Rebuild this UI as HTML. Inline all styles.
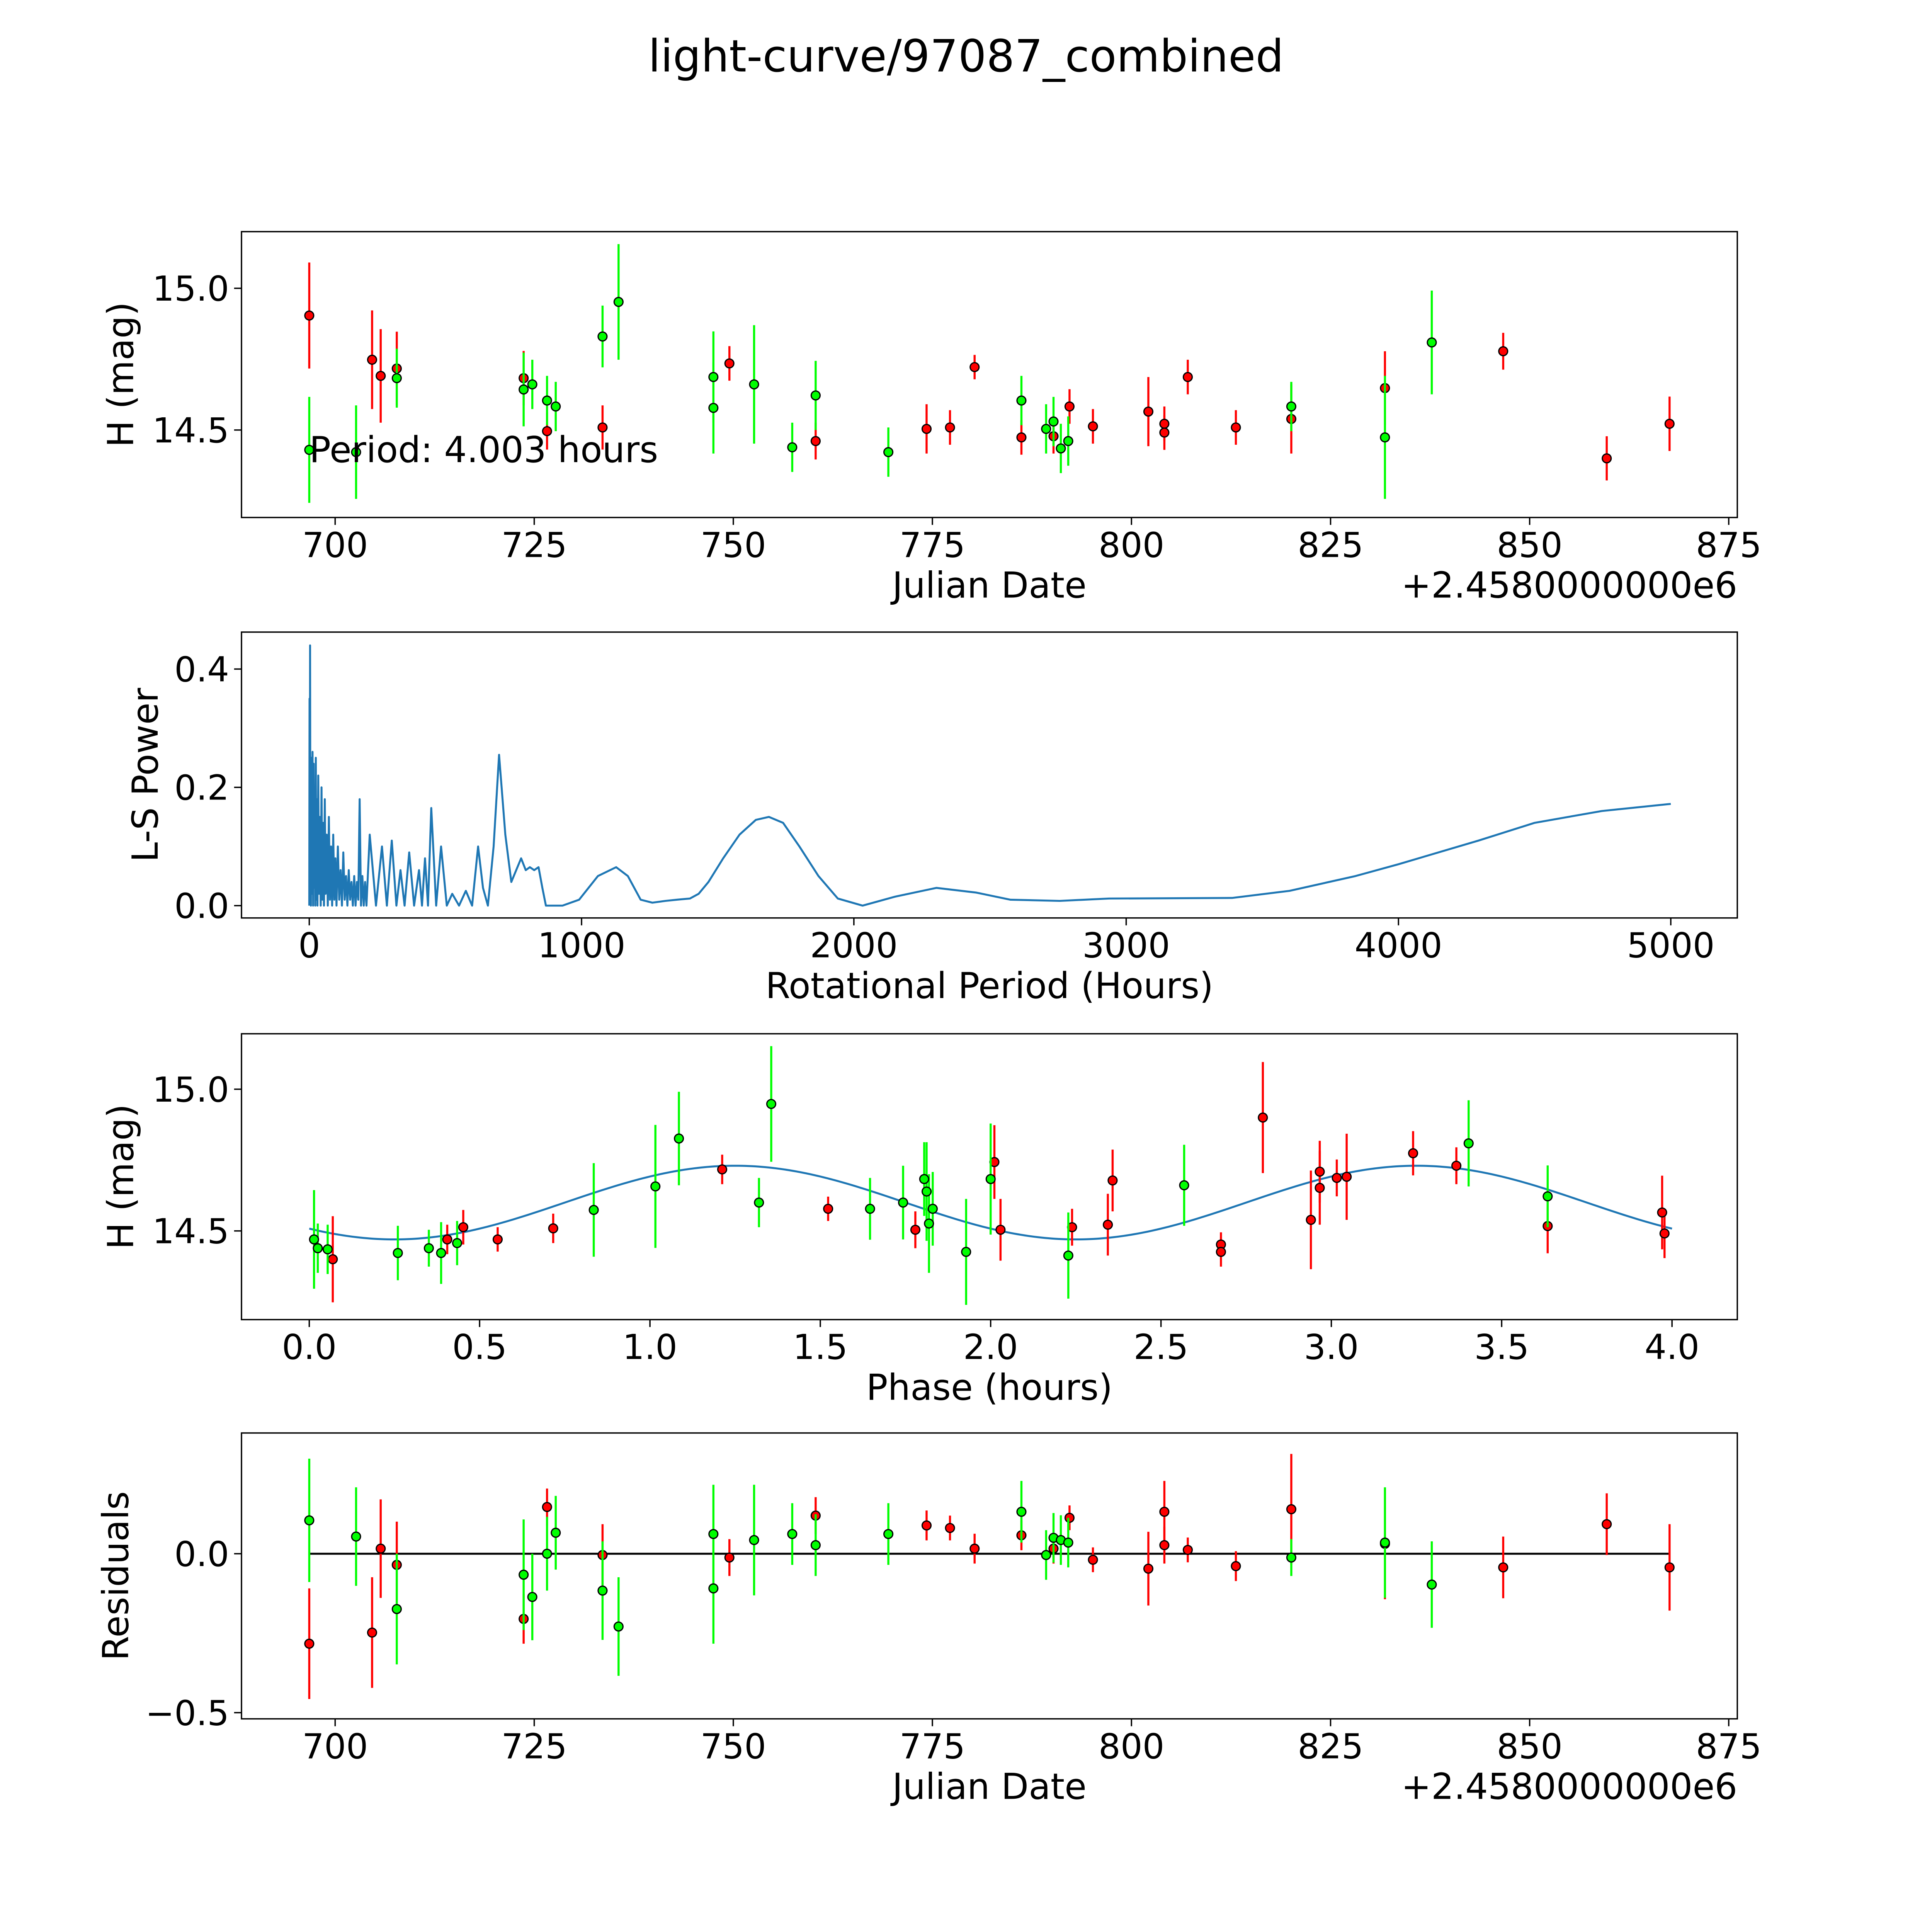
<!DOCTYPE html>
<html><head><meta charset="utf-8"><style>
html,body{margin:0;padding:0;background:#fff;overflow:hidden}
svg{display:block;width:100vw;height:100vh}
text{font-family:"DejaVu Sans","Liberation Sans",sans-serif;fill:#000}
</style></head><body>
<svg id="fig" viewBox="0 0 1568 1568" preserveAspectRatio="none" xmlns="http://www.w3.org/2000/svg">
<rect width="1568" height="1568" fill="#fff"/>
<text x="784" y="58" font-size="36" text-anchor="middle">light-curve/97087_combined</text>
<g id="layer"></g>
</svg>
<script>
// ---- data ----
const redJD=[696.75,704.64,705.72,707.74,723.67,726.61,733.58,749.51,760.34,774.27,777.21,780.30,786.18,790.21,792.22,795.16,802.12,804.13,804.13,807.07,813.11,820.07,831.83,846.68,859.68,867.57];
const redMag=[14.904,14.748,14.691,14.717,14.683,14.496,14.509,14.735,14.461,14.504,14.509,14.722,14.474,14.478,14.583,14.513,14.565,14.522,14.491,14.687,14.509,14.539,14.648,14.778,14.400,14.522];
const redErr=[0.187,0.174,0.165,0.13,0.096,0.065,0.078,0.061,0.065,0.087,0.061,0.043,0.061,0.061,0.061,0.061,0.122,0.061,0.061,0.061,0.061,0.122,0.13,0.065,0.078,0.096];
const greenJD=[696.75,702.63,707.74,723.67,724.76,726.61,727.70,733.58,735.59,747.50,747.50,752.61,757.40,760.34,769.47,786.18,789.28,790.21,791.13,792.06,820.07,831.83,837.71];
const greenMag=[14.43,14.422,14.683,14.643,14.661,14.604,14.583,14.83,14.952,14.687,14.578,14.661,14.439,14.622,14.422,14.604,14.504,14.53,14.435,14.461,14.583,14.474,14.809];
const greenErr=[0.187,0.165,0.104,0.13,0.087,0.087,0.087,0.109,0.204,0.161,0.161,0.209,0.087,0.122,0.087,0.087,0.087,0.087,0.087,0.087,0.087,0.217,0.183];
const redResid=[-0.283,-0.248,0.016,-0.035,-0.205,0.147,-0.004,-0.012,0.12,0.089,0.081,0.016,0.058,0.016,0.113,-0.019,-0.047,0.132,0.027,0.012,-0.039,0.14,0.031,-0.043,0.093,-0.043];
const redResidErr=[0.174,0.174,0.155,0.136,0.078,0.058,0.097,0.058,0.058,0.047,0.039,0.047,0.047,0.047,0.039,0.039,0.116,0.097,0.058,0.039,0.047,0.174,0.174,0.097,0.097,0.136];
const greenResid=[0.105,0.054,-0.174,-0.066,-0.136,0,0.066,-0.116,-0.229,0.062,-0.109,0.043,0.062,0.027,0.062,0.132,-0.004,0.05,0.043,0.035,-0.012,0.035,-0.097];
const greenResidErr=[0.194,0.155,0.174,0.174,0.136,0.116,0.116,0.155,0.155,0.155,0.174,0.174,0.097,0.097,0.097,0.097,0.078,0.078,0.078,0.078,0.058,0.174,0.136];
const greenPhase=[0.014,0.025,0.054,0.26,0.351,0.387,0.434,0.835,1.016,1.085,1.32,1.356,1.646,1.743,1.805,1.812,1.819,1.83,1.928,2.0,2.228,2.568,3.403,3.635];
const greenPhaseMag=[14.47,14.439,14.435,14.422,14.439,14.422,14.457,14.574,14.657,14.826,14.6,14.948,14.578,14.6,14.683,14.639,14.526,14.578,14.426,14.683,14.413,14.661,14.809,14.622];
const greenPhaseErr=[0.174,0.087,0.087,0.096,0.065,0.109,0.078,0.165,0.217,0.165,0.087,0.204,0.109,0.13,0.13,0.174,0.174,0.13,0.187,0.196,0.152,0.143,0.152,0.109];
const redPhase=[0.069,0.405,0.452,0.553,0.716,1.212,1.523,1.779,2.011,2.029,2.239,2.344,2.358,2.676,2.676,2.799,2.94,2.966,2.966,3.016,3.045,3.24,3.367,3.635,3.971,3.978];
const redPhaseMag=[14.4,14.47,14.513,14.47,14.509,14.717,14.578,14.504,14.743,14.504,14.513,14.522,14.678,14.452,14.426,14.9,14.539,14.709,14.652,14.687,14.691,14.774,14.73,14.517,14.565,14.491];
const redPhaseErr=[0.152,0.052,0.061,0.043,0.052,0.052,0.043,0.065,0.13,0.109,0.065,0.109,0.109,0.043,0.052,0.196,0.174,0.109,0.13,0.065,0.152,0.078,0.065,0.096,0.13,0.087];
const fitMean=14.60, fitAmp=0.13, fitPeriod=2.0, fitPeak=1.25, foldPeriod=4.003;
const lsPeriods=[0,1,2,3,4,6,8,10,12,14,16,18,20,22,24,26,28,30,33,36,39,42,45,48,51,54,57,60,64,68,72,76,80,84,88,92,96,100,105,110,115,120,125,130,135,140,145,150,155,160,165,170,175,180,185,190,195,200,205,210,222,245,267,285,303,320,335,350,367,385,403,414,425,436,448,466,484,505,525,550,575,598,620,638,656,677,697,720,742,760,778,795,810,826,842,856,869,930,991,1060,1127,1170,1217,1260,1308,1350,1398,1430,1466,1520,1580,1640,1688,1740,1800,1870,1941,2032,2150,2303,2450,2575,2756,2937,3389,3600,3842,4000,4294,4500,4747,5000];
const lsPower=[0,0.35,0.03,0.44,0.1,0,0.25,0.02,0.26,0,0.24,0.03,0.2,0,0.25,0.01,0.18,0,0.22,0.02,0.15,0,0.2,0.01,0.14,0,0.18,0.02,0.12,0,0.15,0.01,0.1,0,0.12,0.01,0.08,0,0.1,0.01,0.06,0,0.09,0.01,0.05,0,0.06,0.01,0.04,0,0.05,0,0.04,0.01,0.18,0,0.05,0,0.04,0,0.12,0,0.1,0,0.11,0,0.06,0,0.09,0,0.06,0,0.08,0,0.165,0,0.1,0,0.02,0,0.025,0,0.1,0.03,0,0.1,0.255,0.12,0.04,0.06,0.08,0.06,0.065,0.06,0.065,0.03,0,0,0.01,0.05,0.065,0.05,0.01,0.005,0.008,0.01,0.012,0.02,0.04,0.08,0.12,0.145,0.15,0.14,0.1,0.05,0.012,0,0.015,0.03,0.022,0.01,0.008,0.012,0.013,0.025,0.05,0.07,0.11,0.14,0.16,0.172];
const jdTicks=[700,725,750,775,800,825,850,875];
const magTicks=[14.5,15.0];
const lsXTicks=[0,1000,2000,3000,4000,5000];
const lsYTicks=[0.0,0.2,0.4];
const phaseTicks=[0,0.5,1,1.5,2,2.5,3,3.5,4];
const residTicks=[-0.5,0.0];

// ---- scales ----
const sxJD=v=>272+(v-700)*6.463;
const sy1=v=>349-(v-14.5)*230;
const sx2=v=>251+v*0.221;
const sy2=v=>735-v*480;
const sx3=v=>251+v*276.5;
const sy3=v=>999-(v-14.5)*230;
const sy4=v=>1261-v*258;

const NS='http://www.w3.org/2000/svg';
const layer=document.getElementById('layer');
function mk(tag,attrs,parent){const e=document.createElementNS(NS,tag);for(const k in attrs)e.setAttribute(k,attrs[k]);(parent||layer).appendChild(e);return e;}

function axes(name,x0,y0,x1,y1,xt,sx,xfmt,yt,sy,yfmt,xlabel,ylabel,ylx){
  const g=mk('g',{});
  
  
  const fr=mk('rect',{x:x0,y:y0,width:x1-x0,height:y1-y0,fill:'none',stroke:'#000','stroke-width':1.1},g);
  
  
  xt.forEach(v=>{const x=sx(v);
    mk('line',{x1:x,y1:y1,x2:x,y2:y1+6,stroke:'#000','stroke-width':1.1},g);
    const t=mk('text',{x:x,y:y1+32,'font-size':28,'text-anchor':'middle'},g);t.textContent=xfmt(v);
    
    });
  yt.forEach(v=>{const y=sy(v);
    mk('line',{x1:x0-6,y1:y,x2:x0,y2:y,stroke:'#000','stroke-width':1.1},g);
    const t=mk('text',{x:x0-10,y:y+10,'font-size':28,'text-anchor':'end'},g);t.textContent=yfmt(v);
    
    });
  const xl=mk('text',{x:(x0+x1)/2,y:y1+65,'font-size':29,'text-anchor':'middle'},g);xl.textContent=xlabel;
  
  
  const yc=(y0+y1)/2;
  const yl=mk('text',{x:ylx,y:yc,'font-size':29,'text-anchor':'middle',transform:'rotate(-90 '+ylx+' '+yc+')'},g);yl.textContent=ylabel;
  
  
  return g;
}
function pts(name,xs,ys,es,sx,sy,col){
  const g=mk('g',{});
  
  
  xs.forEach((x,i)=>{const X=sx(x);
    const l=mk('line',{x1:X,y1:sy(ys[i]-es[i]),x2:X,y2:sy(ys[i]+es[i]),stroke:col,'stroke-width':1.7},g);
    
    });
  xs.forEach((x,i)=>{
    const c=mk('circle',{cx:sx(x),cy:sy(ys[i]),r:3.6,fill:col,stroke:'#000','stroke-width':1},g);
    
    });
}
const RED='#ff0000',GREEN='#00ff00',f1=v=>v.toFixed(1);
const offText='+2.4580000000e6';

// Panel 1
axes('lightcurve',196,188,1410,420,jdTicks,sxJD,v=>String(v),magTicks,sy1,f1,'Julian Date','H (mag)',108);
pts('lightcurve-red',redJD,redMag,redErr,sxJD,sy1,RED);
pts('lightcurve-green',greenJD,greenMag,greenErr,sxJD,sy1,GREEN);
let t=mk('text',{x:251,y:375,'font-size':29});t.textContent='Period: '+foldPeriod.toFixed(3)+' hours';


t=mk('text',{x:1410,y:485,'font-size':29,'text-anchor':'end'});t.textContent=offText;



// Panel 2
axes('periodogram',196,513,1410,745,lsXTicks,sx2,v=>String(v),lsYTicks,sy2,f1,'Rotational Period (Hours)','L-S Power',128);
let p=mk('polyline',{points:lsPeriods.map((v,i)=>sx2(v)+','+sy2(lsPower[i])).join(' '),fill:'none',stroke:'#1f77b4','stroke-width':1.6,'stroke-linejoin':'round'});



// Panel 3
axes('phase',196,839,1410,1071,phaseTicks,sx3,f1,magTicks,sy3,f1,'Phase (hours)','H (mag)',108);
const fitX=[];for(let i=0;i<=400;i++)fitX.push(i*0.01);
p=mk('polyline',{points:fitX.map(v=>sx3(v)+','+sy3(fitMean+fitAmp*Math.cos(2*Math.PI*(v-fitPeak)/fitPeriod))).join(' '),fill:'none',stroke:'#1f77b4','stroke-width':1.6});


pts('phase-red',redPhase,redPhaseMag,redPhaseErr,sx3,sy3,RED);
pts('phase-green',greenPhase,greenPhaseMag,greenPhaseErr,sx3,sy3,GREEN);

// Panel 4
axes('residuals',196,1163,1410,1395,jdTicks,sxJD,v=>String(v),residTicks,sy4,v=>v<0?'\u22120.5':'0.0','Julian Date','Residuals',104);
p=mk('line',{x1:sxJD(Math.min(...redJD)),y1:sy4(0),x2:sxJD(Math.max(...redJD)),y2:sy4(0),stroke:'#000','stroke-width':1.6});


pts('residuals-red',redJD,redResid,redResidErr,sxJD,sy4,RED);
pts('residuals-green',greenJD,greenResid,greenResidErr,sxJD,sy4,GREEN);
t=mk('text',{x:1410,y:1460,'font-size':29,'text-anchor':'end'});t.textContent=offText;


</script>
</body></html>
